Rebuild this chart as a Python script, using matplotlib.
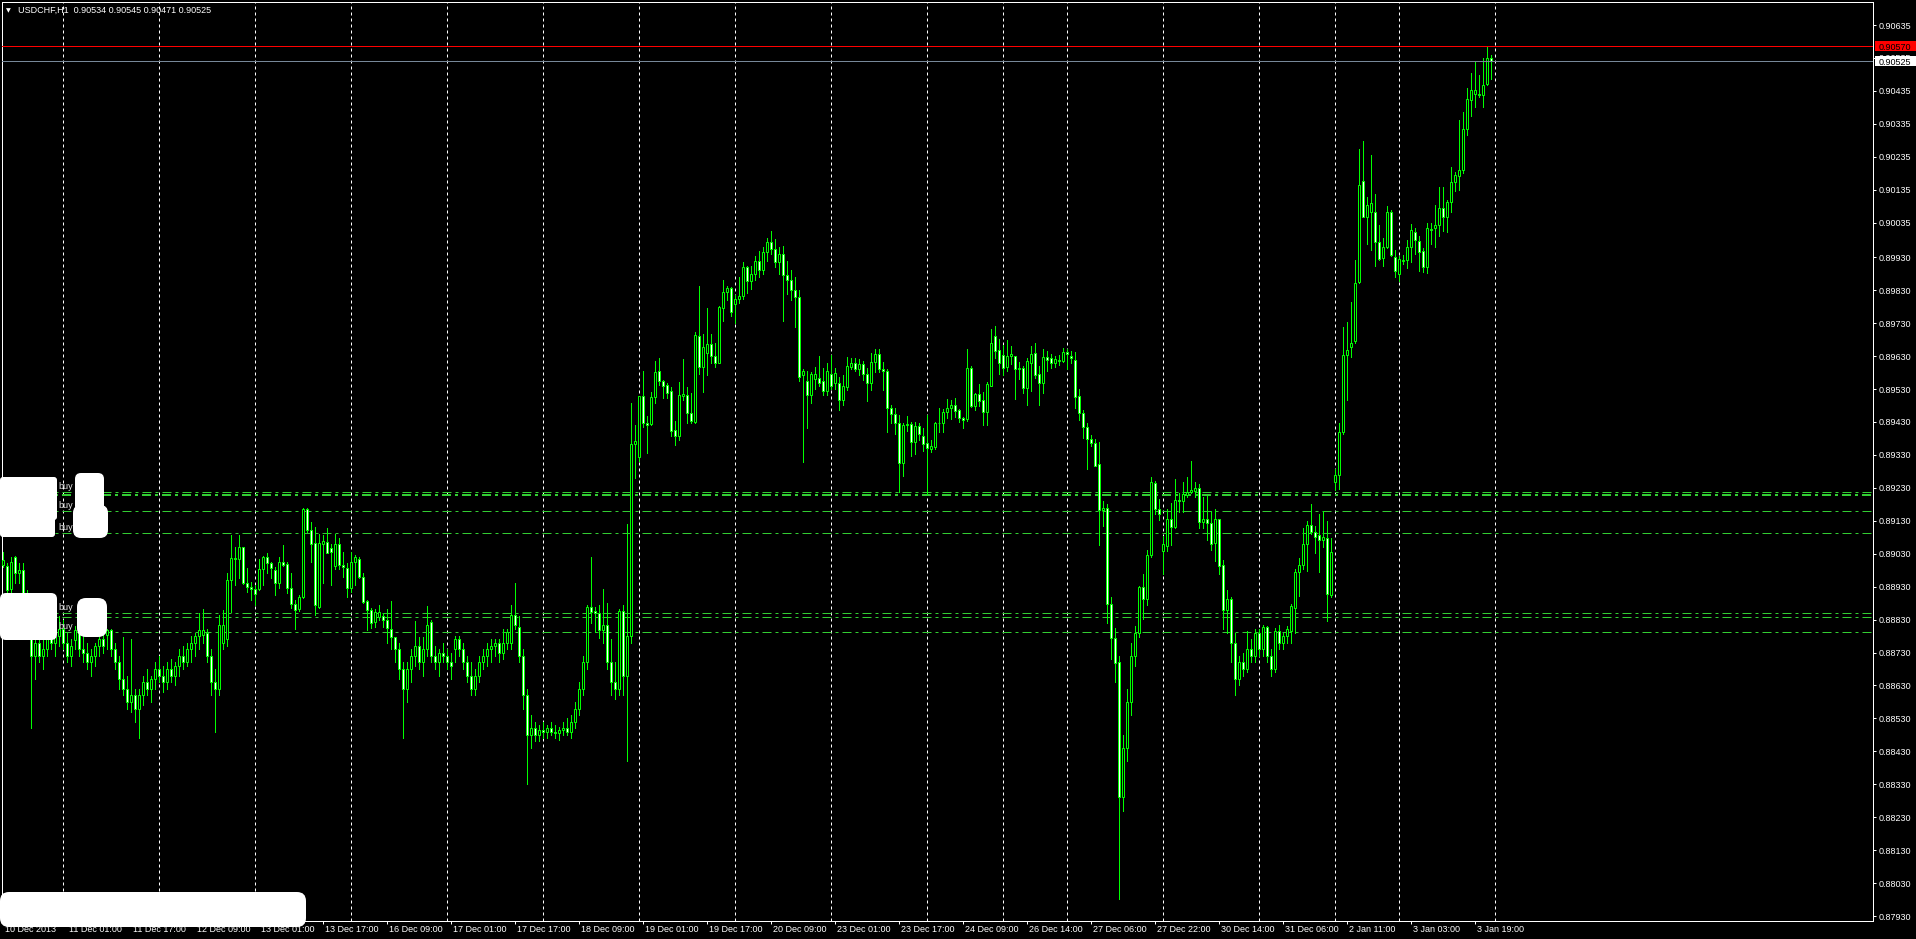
import numpy as np
import matplotlib
matplotlib.use("Agg")
import matplotlib.pyplot as plt
from matplotlib.patches import Rectangle, FancyBboxPatch
from matplotlib.transforms import blended_transform_factory, IdentityTransform, offset_copy

# --- Chart values: USDCHF H1, 10 Dec 2013 09:00 .. 3 Jan 2014 23:00 ---
TITLE = "USDCHF,H1  0.90534 0.90545 0.90471 0.90525"

opens = [
    0.88996, 0.88994, 0.88922, 0.89019, 0.88970, 0.88980, 0.88910, 0.88800, 0.88720, 0.88760,  # 0
    0.88720, 0.88740, 0.88790, 0.88760, 0.88780, 0.88800, 0.88760, 0.88720, 0.88768, 0.88798,  # 10
    0.88740, 0.88730, 0.88700, 0.88720, 0.88750, 0.88770, 0.88783, 0.88798, 0.88740, 0.88700,  # 20
    0.88650, 0.88620, 0.88580, 0.88600, 0.88560, 0.88600, 0.88640, 0.88620, 0.88650, 0.88680,  # 30
    0.88660, 0.88640, 0.88680, 0.88660, 0.88690, 0.88720, 0.88700, 0.88740, 0.88760, 0.88780,  # 40
    0.88783, 0.88788, 0.88720, 0.88640, 0.88620, 0.88760, 0.88770, 0.88950, 0.89016, 0.89013,  # 50
    0.89049, 0.88942, 0.88930, 0.88922, 0.88922, 0.88983, 0.89019, 0.89001, 0.88980, 0.88940,  # 60
    0.89004, 0.88999, 0.88925, 0.88877, 0.88861, 0.88898, 0.89165, 0.89102, 0.89064, 0.88869,  # 70
    0.89061, 0.89066, 0.89048, 0.88993, 0.89060, 0.88996, 0.88988, 0.88925, 0.89004, 0.89013,  # 80
    0.88960, 0.88887, 0.88859, 0.88822, 0.88839, 0.88841, 0.88829, 0.88800, 0.88776, 0.88740,  # 90
    0.88680, 0.88620, 0.88680, 0.88720, 0.88750, 0.88700, 0.88740, 0.88823, 0.88720, 0.88700,  # 100
    0.88730, 0.88720, 0.88700, 0.88740, 0.88770, 0.88740, 0.88700, 0.88660, 0.88620, 0.88660,  # 110
    0.88700, 0.88720, 0.88740, 0.88750, 0.88760, 0.88730, 0.88760, 0.88760, 0.88844, 0.88808,  # 120
    0.88720, 0.88600, 0.88480, 0.88500, 0.88480, 0.88495, 0.88490, 0.88500, 0.88490, 0.88485,  # 130
    0.88495, 0.88500, 0.88490, 0.88520, 0.88560, 0.88620, 0.88700, 0.88867, 0.88856, 0.88849,  # 140
    0.88798, 0.88813, 0.88700, 0.88640, 0.88620, 0.88855, 0.88660, 0.88780, 0.89362, 0.89324,  # 150
    0.89509, 0.89428, 0.89425, 0.89505, 0.89584, 0.89553, 0.89541, 0.89524, 0.89405, 0.89388,  # 160
    0.89510, 0.89511, 0.89456, 0.89431, 0.89690, 0.89598, 0.89640, 0.89666, 0.89630, 0.89610,  # 170
    0.89775, 0.89824, 0.89836, 0.89787, 0.89802, 0.89811, 0.89899, 0.89859, 0.89880, 0.89920,  # 180
    0.89890, 0.89945, 0.89975, 0.89955, 0.89915, 0.89940, 0.89875, 0.89860, 0.89830, 0.89810,  # 190
    0.89572, 0.89553, 0.89513, 0.89561, 0.89562, 0.89553, 0.89525, 0.89575, 0.89547, 0.89547,  # 200
    0.89497, 0.89537, 0.89598, 0.89609, 0.89592, 0.89605, 0.89575, 0.89549, 0.89611, 0.89636,  # 210
    0.89590, 0.89585, 0.89471, 0.89453, 0.89428, 0.89304, 0.89420, 0.89423, 0.89368, 0.89418,  # 220
    0.89386, 0.89365, 0.89347, 0.89355, 0.89426, 0.89426, 0.89459, 0.89471, 0.89480, 0.89466,  # 230
    0.89443, 0.89438, 0.89593, 0.89479, 0.89515, 0.89497, 0.89461, 0.89540, 0.89691, 0.89648,  # 240
    0.89633, 0.89597, 0.89630, 0.89630, 0.89590, 0.89593, 0.89534, 0.89610, 0.89638, 0.89575,  # 250
    0.89547, 0.89626, 0.89623, 0.89608, 0.89614, 0.89616, 0.89641, 0.89630, 0.89618, 0.89509,  # 260
    0.89456, 0.89414, 0.89377, 0.89365, 0.89301, 0.89163, 0.89170, 0.88876, 0.88773, 0.88702,  # 270
    0.88290, 0.88440, 0.88580, 0.88720, 0.88789, 0.88929, 0.88893, 0.89026, 0.89244, 0.89167,  # 280
    0.89037, 0.89052, 0.89134, 0.89111, 0.89193, 0.89189, 0.89209, 0.89217, 0.89219, 0.89231,  # 290
    0.89126, 0.89134, 0.89122, 0.89063, 0.89134, 0.88996, 0.88858, 0.88892, 0.88760, 0.88650,  # 300
    0.88700, 0.88680, 0.88740, 0.88720, 0.88789, 0.88740, 0.88807, 0.88720, 0.88680, 0.88795,  # 310
    0.88760, 0.88780, 0.88795, 0.88866, 0.88973, 0.88996, 0.89061, 0.89118, 0.89097, 0.89087,  # 320
    0.89073, 0.89079, 0.88905, 0.89248, 0.89268, 0.89398, 0.89634, 0.89658, 0.89675, 0.89855,  # 330
    0.90162, 0.90053, 0.90068, 0.90068, 0.89976, 0.89929, 0.89962, 0.90068, 0.89931, 0.89878,  # 340
    0.89920, 0.89921, 0.89962, 0.90008, 0.89980, 0.89949, 0.89900, 0.90012, 0.90018, 0.90027,  # 350
    0.90081, 0.90051, 0.90097, 0.90159, 0.90177, 0.90195, 0.90319, 0.90407, 0.90427, 0.90427,  # 360
    0.90422, 0.90455, 0.90534,                                                                   # 370
]

highs = [
    0.89036, 0.89001, 0.89021, 0.89024, 0.89001, 0.89001, 0.88920, 0.88830, 0.88780, 0.88790,
    0.88770, 0.88810, 0.88820, 0.88800, 0.88840, 0.88830, 0.88790, 0.88770, 0.88810, 0.88805,
    0.88783, 0.88760, 0.88740, 0.88760, 0.88780, 0.88788, 0.88800, 0.88800, 0.88760, 0.88720,
    0.88778, 0.88660, 0.88770, 0.88620, 0.88620, 0.88660, 0.88680, 0.88660, 0.88700, 0.88720,
    0.88690, 0.88700, 0.88710, 0.88700, 0.88740, 0.88750, 0.88760, 0.88780, 0.88790, 0.88849,
    0.88862, 0.88800, 0.88740, 0.88680, 0.88844, 0.88859, 0.88970, 0.89087, 0.89051, 0.89087,
    0.89049, 0.88986, 0.88945, 0.88935, 0.89013, 0.89024, 0.89031, 0.89006, 0.88991, 0.89019,
    0.89056, 0.89006, 0.88970, 0.88889, 0.88905, 0.89168, 0.89168, 0.89127, 0.89112, 0.89090,
    0.89087, 0.89107, 0.89061, 0.89089, 0.89077, 0.89036, 0.89001, 0.89036, 0.89026, 0.89021,
    0.88970, 0.88889, 0.88864, 0.88861, 0.88874, 0.88849, 0.88861, 0.88886, 0.88776, 0.88760,
    0.88700, 0.88700, 0.88740, 0.88826, 0.88776, 0.88776, 0.88871, 0.88830, 0.88750, 0.88740,
    0.88760, 0.88740, 0.88730, 0.88780, 0.88780, 0.88760, 0.88720, 0.88700, 0.88680, 0.88720,
    0.88740, 0.88760, 0.88770, 0.88770, 0.88770, 0.88800, 0.88800, 0.88874, 0.88940, 0.88841,
    0.88740, 0.88620, 0.88540, 0.88520, 0.88510, 0.88520, 0.88510, 0.88520, 0.88510, 0.88505,
    0.88520, 0.88530, 0.88540, 0.88580, 0.88640, 0.88720, 0.88875, 0.89019, 0.88867, 0.88874,
    0.88923, 0.88879, 0.88770, 0.88700, 0.88862, 0.88874, 0.89120, 0.89487, 0.89421, 0.89510,
    0.89585, 0.89448, 0.89520, 0.89615, 0.89623, 0.89557, 0.89547, 0.89537, 0.89434, 0.89550,
    0.89621, 0.89535, 0.89517, 0.89703, 0.89843, 0.89697, 0.89776, 0.89697, 0.89669, 0.89782,
    0.89861, 0.89843, 0.89841, 0.89815, 0.89871, 0.89916, 0.89903, 0.89905, 0.89935, 0.89950,
    0.89960, 0.89990, 0.90010, 0.89985, 0.89960, 0.89965, 0.89920, 0.89890, 0.89870, 0.89830,
    0.89590, 0.89585, 0.89583, 0.89597, 0.89630, 0.89593, 0.89609, 0.89633, 0.89593, 0.89567,
    0.89573, 0.89628, 0.89625, 0.89624, 0.89620, 0.89614, 0.89595, 0.89640, 0.89652, 0.89653,
    0.89612, 0.89590, 0.89483, 0.89471, 0.89452, 0.89428, 0.89449, 0.89431, 0.89431, 0.89428,
    0.89413, 0.89450, 0.89376, 0.89431, 0.89471, 0.89468, 0.89500, 0.89498, 0.89504, 0.89470,
    0.89446, 0.89652, 0.89600, 0.89518, 0.89545, 0.89522, 0.89552, 0.89712, 0.89720, 0.89681,
    0.89665, 0.89678, 0.89660, 0.89630, 0.89612, 0.89600, 0.89625, 0.89660, 0.89669, 0.89600,
    0.89650, 0.89645, 0.89635, 0.89629, 0.89632, 0.89654, 0.89651, 0.89645, 0.89641, 0.89530,
    0.89465, 0.89426, 0.89390, 0.89379, 0.89368, 0.89191, 0.89180, 0.88900, 0.88804, 0.88720,
    0.88480, 0.88620, 0.88760, 0.88810, 0.88931, 0.88969, 0.89040, 0.89262, 0.89252, 0.89197,
    0.89085, 0.89165, 0.89185, 0.89256, 0.89215, 0.89248, 0.89262, 0.89311, 0.89248, 0.89241,
    0.89203, 0.89205, 0.89161, 0.89167, 0.89134, 0.89012, 0.88919, 0.88900, 0.88790, 0.88720,
    0.88730, 0.88795, 0.88770, 0.88800, 0.88800, 0.88815, 0.88810, 0.88740, 0.88805, 0.88815,
    0.88790, 0.88810, 0.88878, 0.88984, 0.89016, 0.89108, 0.89130, 0.89182, 0.89114, 0.89150,
    0.89161, 0.89130, 0.89079, 0.89288, 0.89427, 0.89717, 0.89732, 0.89793, 0.89923, 0.90260,
    0.90283, 0.90112, 0.90242, 0.90122, 0.90027, 0.89988, 0.90086, 0.90073, 0.89953, 0.89935,
    0.89937, 0.89982, 0.90030, 0.90020, 0.89994, 0.89959, 0.90035, 0.90033, 0.90089, 0.90142,
    0.90142, 0.90104, 0.90204, 0.90189, 0.90346, 0.90370, 0.90445, 0.90488, 0.90523, 0.90484,
    0.90535, 0.90570, 0.90545,
]

lows = [
    0.88991, 0.88915, 0.88910, 0.88942, 0.88940, 0.88900, 0.88780, 0.88500, 0.88650, 0.88700,
    0.88680, 0.88720, 0.88740, 0.88720, 0.88750, 0.88740, 0.88700, 0.88690, 0.88740, 0.88720,
    0.88700, 0.88680, 0.88660, 0.88690, 0.88720, 0.88730, 0.88740, 0.88720, 0.88680, 0.88620,
    0.88600, 0.88560, 0.88550, 0.88520, 0.88470, 0.88570, 0.88600, 0.88580, 0.88620, 0.88640,
    0.88610, 0.88620, 0.88640, 0.88630, 0.88660, 0.88680, 0.88690, 0.88700, 0.88720, 0.88740,
    0.88760, 0.88700, 0.88600, 0.88490, 0.88600, 0.88740, 0.88750, 0.88854, 0.88935, 0.88955,
    0.88938, 0.88915, 0.88889, 0.88874, 0.88920, 0.88935, 0.88970, 0.88955, 0.88905, 0.88925,
    0.88993, 0.88912, 0.88864, 0.88800, 0.88857, 0.88895, 0.89097, 0.89006, 0.88844, 0.88864,
    0.88942, 0.89031, 0.88935, 0.88983, 0.88983, 0.88960, 0.88900, 0.88915, 0.88935, 0.88955,
    0.88879, 0.88798, 0.88803, 0.88808, 0.88829, 0.88808, 0.88760, 0.88740, 0.88700, 0.88650,
    0.88470, 0.88580, 0.88640, 0.88690, 0.88680, 0.88660, 0.88720, 0.88700, 0.88680, 0.88660,
    0.88700, 0.88680, 0.88650, 0.88700, 0.88720, 0.88680, 0.88640, 0.88600, 0.88600, 0.88640,
    0.88680, 0.88690, 0.88700, 0.88720, 0.88700, 0.88710, 0.88740, 0.88740, 0.88800, 0.88700,
    0.88560, 0.88330, 0.88440, 0.88460, 0.88460, 0.88470, 0.88470, 0.88480, 0.88470, 0.88465,
    0.88480, 0.88480, 0.88470, 0.88500, 0.88540, 0.88600, 0.88680, 0.88819, 0.88793, 0.88773,
    0.88760, 0.88680, 0.88600, 0.88590, 0.88600, 0.88600, 0.88400, 0.88760, 0.89261, 0.89310,
    0.89416, 0.89337, 0.89420, 0.89488, 0.89542, 0.89502, 0.89502, 0.89388, 0.89360, 0.89375,
    0.89497, 0.89426, 0.89428, 0.89428, 0.89575, 0.89522, 0.89573, 0.89610, 0.89598, 0.89609,
    0.89737, 0.89800, 0.89753, 0.89729, 0.89790, 0.89802, 0.89821, 0.89835, 0.89860, 0.89870,
    0.89880, 0.89920, 0.89940, 0.89900, 0.89880, 0.89735, 0.89820, 0.89800, 0.89717, 0.89555,
    0.89309, 0.89413, 0.89488, 0.89529, 0.89540, 0.89512, 0.89512, 0.89530, 0.89530, 0.89466,
    0.89481, 0.89527, 0.89591, 0.89585, 0.89573, 0.89557, 0.89494, 0.89527, 0.89581, 0.89581,
    0.89527, 0.89400, 0.89426, 0.89394, 0.89218, 0.89265, 0.89404, 0.89327, 0.89334, 0.89375,
    0.89341, 0.89211, 0.89338, 0.89348, 0.89398, 0.89398, 0.89441, 0.89438, 0.89444, 0.89431,
    0.89411, 0.89434, 0.89474, 0.89465, 0.89479, 0.89420, 0.89420, 0.89540, 0.89625, 0.89575,
    0.89572, 0.89584, 0.89607, 0.89500, 0.89560, 0.89519, 0.89480, 0.89524, 0.89564, 0.89483,
    0.89517, 0.89584, 0.89593, 0.89596, 0.89604, 0.89611, 0.89590, 0.89610, 0.89472, 0.89437,
    0.89380, 0.89287, 0.89356, 0.89297, 0.89056, 0.89113, 0.88820, 0.88711, 0.88640, 0.87983,
    0.88250, 0.88400, 0.88540, 0.88690, 0.88778, 0.88831, 0.88874, 0.89020, 0.89150, 0.89132,
    0.88967, 0.89037, 0.89055, 0.89108, 0.89158, 0.89158, 0.89203, 0.89215, 0.89203, 0.89108,
    0.89108, 0.89073, 0.89040, 0.89008, 0.88969, 0.88801, 0.88789, 0.88700, 0.88600, 0.88630,
    0.88660, 0.88670, 0.88700, 0.88700, 0.88720, 0.88720, 0.88700, 0.88660, 0.88670, 0.88740,
    0.88740, 0.88760, 0.88760, 0.88789, 0.88902, 0.88984, 0.88978, 0.89091, 0.89032, 0.88973,
    0.89049, 0.88827, 0.88898, 0.89224, 0.89226, 0.89392, 0.89498, 0.89628, 0.89669, 0.89852,
    0.90051, 0.89970, 0.89953, 0.89905, 0.89923, 0.89903, 0.89959, 0.89933, 0.89869, 0.89858,
    0.89911, 0.89897, 0.89917, 0.89941, 0.89888, 0.89885, 0.89882, 0.89970, 0.89962, 0.89996,
    0.90009, 0.90008, 0.90068, 0.90132, 0.90133, 0.90187, 0.90301, 0.90360, 0.90386, 0.90417,
    0.90387, 0.90452, 0.90471,
]

closes = [
    0.89011, 0.88920, 0.89004, 0.88970, 0.88980, 0.88910, 0.88800, 0.88720, 0.88760, 0.88720,
    0.88740, 0.88790, 0.88760, 0.88780, 0.88800, 0.88760, 0.88720, 0.88750, 0.88798, 0.88740,
    0.88730, 0.88700, 0.88720, 0.88750, 0.88770, 0.88750, 0.88798, 0.88740, 0.88700, 0.88650,
    0.88620, 0.88580, 0.88600, 0.88560, 0.88600, 0.88640, 0.88620, 0.88650, 0.88680, 0.88660,
    0.88640, 0.88680, 0.88660, 0.88690, 0.88720, 0.88700, 0.88740, 0.88760, 0.88780, 0.88798,
    0.88798, 0.88720, 0.88640, 0.88620, 0.88814, 0.88814, 0.88950, 0.89016, 0.89013, 0.89049,
    0.88940, 0.88928, 0.88922, 0.88908, 0.88983, 0.89019, 0.89001, 0.88986, 0.88940, 0.89004,
    0.88996, 0.88925, 0.88877, 0.88859, 0.88898, 0.89165, 0.89102, 0.89061, 0.88874, 0.89063,
    0.89068, 0.89033, 0.89036, 0.89060, 0.88996, 0.88991, 0.88925, 0.89004, 0.89021, 0.88960,
    0.88884, 0.88859, 0.88821, 0.88852, 0.88852, 0.88829, 0.88803, 0.88776, 0.88740, 0.88680,
    0.88620, 0.88680, 0.88720, 0.88750, 0.88700, 0.88740, 0.88815, 0.88720, 0.88700, 0.88730,
    0.88720, 0.88700, 0.88690, 0.88770, 0.88740, 0.88700, 0.88660, 0.88620, 0.88660, 0.88700,
    0.88720, 0.88740, 0.88750, 0.88760, 0.88730, 0.88760, 0.88792, 0.88844, 0.88814, 0.88720,
    0.88600, 0.88480, 0.88500, 0.88480, 0.88495, 0.88490, 0.88500, 0.88490, 0.88485, 0.88495,
    0.88500, 0.88490, 0.88520, 0.88560, 0.88620, 0.88700, 0.88869, 0.88854, 0.88849, 0.88798,
    0.88813, 0.88700, 0.88640, 0.88620, 0.88855, 0.88660, 0.88780, 0.89362, 0.89372, 0.89509,
    0.89428, 0.89422, 0.89505, 0.89581, 0.89555, 0.89540, 0.89518, 0.89403, 0.89388, 0.89511,
    0.89515, 0.89456, 0.89434, 0.89693, 0.89598, 0.89657, 0.89667, 0.89631, 0.89610, 0.89779,
    0.89824, 0.89837, 0.89765, 0.89803, 0.89811, 0.89899, 0.89859, 0.89880, 0.89920, 0.89890,
    0.89945, 0.89975, 0.89955, 0.89915, 0.89940, 0.89875, 0.89860, 0.89830, 0.89810, 0.89567,
    0.89585, 0.89513, 0.89576, 0.89575, 0.89547, 0.89525, 0.89584, 0.89540, 0.89578, 0.89497,
    0.89539, 0.89600, 0.89610, 0.89592, 0.89605, 0.89575, 0.89549, 0.89611, 0.89636, 0.89590,
    0.89586, 0.89471, 0.89453, 0.89428, 0.89306, 0.89420, 0.89423, 0.89368, 0.89418, 0.89392,
    0.89362, 0.89350, 0.89357, 0.89426, 0.89426, 0.89459, 0.89471, 0.89480, 0.89464, 0.89443,
    0.89436, 0.89593, 0.89479, 0.89515, 0.89494, 0.89461, 0.89545, 0.89669, 0.89646, 0.89608,
    0.89595, 0.89630, 0.89635, 0.89590, 0.89593, 0.89534, 0.89615, 0.89635, 0.89573, 0.89547,
    0.89626, 0.89618, 0.89610, 0.89620, 0.89619, 0.89643, 0.89636, 0.89623, 0.89507, 0.89458,
    0.89414, 0.89377, 0.89365, 0.89297, 0.89163, 0.89170, 0.88876, 0.88773, 0.88697, 0.88290,
    0.88440, 0.88580, 0.88720, 0.88789, 0.88929, 0.88893, 0.89026, 0.89248, 0.89167, 0.89150,
    0.89059, 0.89134, 0.89111, 0.89193, 0.89191, 0.89211, 0.89217, 0.89223, 0.89231, 0.89126,
    0.89134, 0.89122, 0.89061, 0.89134, 0.88993, 0.88860, 0.88892, 0.88760, 0.88650, 0.88700,
    0.88680, 0.88740, 0.88720, 0.88789, 0.88740, 0.88807, 0.88720, 0.88680, 0.88795, 0.88760,
    0.88780, 0.88800, 0.88870, 0.88973, 0.88996, 0.89059, 0.89118, 0.89097, 0.89082, 0.89073,
    0.89082, 0.88908, 0.89035, 0.89268, 0.89398, 0.89634, 0.89649, 0.89669, 0.89852, 0.90150,
    0.90053, 0.90089, 0.90094, 0.89976, 0.89926, 0.89962, 0.90068, 0.89937, 0.89888, 0.89926,
    0.89923, 0.89962, 0.90012, 0.89982, 0.89947, 0.89900, 0.90018, 0.90015, 0.90027, 0.90079,
    0.90051, 0.90097, 0.90159, 0.90179, 0.90195, 0.90319, 0.90410, 0.90437, 0.90437, 0.90422,
    0.90452, 0.90535, 0.90525,
]

# bar index at which each trading day starts (dashed separators)
DAY_STARTS = [15, 39, 63, 87, 111, 135, 159, 183, 207, 231, 250, 266, 290, 314, 333, 349, 373]

TIME_TICKS = [0, 16, 32, 48, 64, 80, 96, 112, 128, 144, 160, 176,
              192, 208, 224, 240, 256, 272, 288, 304, 320, 336, 352, 368]
TIME_LABELS = ["10 Dec 2013", "11 Dec 01:00", "11 Dec 17:00", "12 Dec 09:00",
               "13 Dec 01:00", "13 Dec 17:00", "16 Dec 09:00", "17 Dec 01:00",
               "17 Dec 17:00", "18 Dec 09:00", "19 Dec 01:00", "19 Dec 17:00",
               "20 Dec 09:00", "23 Dec 01:00", "23 Dec 17:00", "24 Dec 09:00",
               "26 Dec 14:00", "27 Dec 06:00", "27 Dec 22:00", "30 Dec 14:00",
               "31 Dec 06:00", "2 Jan 11:00", "3 Jan 03:00", "3 Jan 19:00"]

PRICE_TICKS = [0.90635, 0.90535, 0.90435, 0.90335, 0.90235, 0.90135, 0.90035,
               0.89930, 0.89830, 0.89730, 0.89630, 0.89530, 0.89430, 0.89330,
               0.89230, 0.89130, 0.89030, 0.88930, 0.88830, 0.88730, 0.88630,
               0.88530, 0.88430, 0.88330, 0.88230, 0.88130, 0.88030, 0.87930]

BUY_LEVELS = [0.89216, 0.89207, 0.89159, 0.89092, 0.88849, 0.88837, 0.88791]
BUY_LABEL_LEVELS = [0.89216, 0.89159, 0.89092, 0.88849, 0.88791]
ASK_LEVEL = 0.90570
BID_LEVEL = 0.90525

# --- styling ---
W, H, DPI = 1916, 939, 100
PX = 72 / DPI                      # one pixel in points
LIME = "#00FF00"
ORDER_GREEN = "#32CD32"
FONT_SIZE = 6.5
BUY_WIDTHS = [1, 2, 1, 1, 1, 1, 1]  # line width (px) of each order line
AX_LEFT, AX_TOP, AX_RIGHT, AX_BOTTOM = 2.0, 2.0, 1873.3, 921.3   # plot frame in px
X_LIMITS = (-0.325, 467.5)
Y_LIMITS = (0.87914, 0.90705)

plt.rcParams["font.family"] = ["Liberation Sans", "DejaVu Sans"]
plt.rcParams["lines.scale_dashes"] = False

assert len(opens) == len(highs) == len(lows) == len(closes)

fig = plt.figure(figsize=(W / DPI, H / DPI), dpi=DPI, facecolor="black")
ax = fig.add_axes([AX_LEFT / W, 1 - AX_BOTTOM / H,
                   (AX_RIGHT - AX_LEFT) / W, (AX_BOTTOM - AX_TOP) / H],
                  facecolor="black")
ax_w_px = AX_RIGHT - AX_LEFT
ax_h_px = AX_BOTTOM - AX_TOP

# day separators
for d in DAY_STARTS:
    ax.axvline(d, color="white", lw=PX, ls=(0, (3 * PX, 3 * PX)), zorder=1)

# candles
x = np.arange(len(opens))
o, hi, lo, c = (np.array(v) for v in (opens, highs, lows, closes))
up = c >= o
ax.vlines(x, np.minimum(lo, np.minimum(o, c)), np.maximum(hi, np.maximum(o, c)),
          colors=LIME, lw=PX, zorder=3, antialiased=False)
bottoms = np.minimum(o, c)
heights = np.abs(c - o)
ax.bar(x[up], heights[up], bottom=bottoms[up], width=0.5,
       facecolor="black", edgecolor=LIME, linewidth=PX, zorder=4)
ax.bar(x[~up], heights[~up], bottom=bottoms[~up], width=0.5,
       facecolor="white", edgecolor=LIME, linewidth=PX, zorder=4)

# pending order lines + labels
dashdot = (0, (9 * PX, 4 * PX, 3 * PX, 4 * PX))
for lv, w in zip(BUY_LEVELS, BUY_WIDTHS):
    ax.axhline(lv, color=ORDER_GREEN, lw=w * PX, ls=dashdot, zorder=2)
trans_xa_yd = blended_transform_factory(ax.transAxes, ax.transData)
buy_trans = offset_copy(trans_xa_yd, fig=fig, x=0, y=1, units="dots")
for lv in BUY_LABEL_LEVELS:
    ax.text(56 / ax_w_px, lv, "buy", transform=buy_trans, ha="left", va="bottom",
            fontsize=FONT_SIZE, color="#e6e6e6", zorder=6)

# ask / bid lines
ax.axhline(ASK_LEVEL, color="#FF0000", lw=PX, zorder=5)
ax.axhline(BID_LEVEL, color="#778899", lw=PX, zorder=5)

# axes look
ax.set_xlim(*X_LIMITS)
ax.set_ylim(*Y_LIMITS)
for s in ax.spines.values():
    s.set_color("white")
    s.set_linewidth(PX)

ax.set_yticks(PRICE_TICKS)
ax.set_yticklabels([f"{p:.5f}" for p in PRICE_TICKS])
ax.yaxis.tick_right()
ax.tick_params(axis="y", colors="white", length=3 * PX, width=PX, pad=2 * PX,
               labelsize=FONT_SIZE)

ax.set_xticks(TIME_TICKS)
ax.set_xticklabels([])
ax.tick_params(axis="x", colors="white", length=3 * PX, width=PX)
label_trans = offset_copy(blended_transform_factory(ax.transData, ax.transAxes),
                          fig=fig, x=2, y=-4, units="dots")
for t, lab in zip(TIME_TICKS, TIME_LABELS):
    ax.text(t, 0, lab, transform=label_trans, ha="left", va="top",
            fontsize=FONT_SIZE, color="white")

# price tags on the right scale
dp = (Y_LIMITS[1] - Y_LIMITS[0]) / ax_h_px
for lv, bg, fg in ((ASK_LEVEL, "#FF0000", "black"), (BID_LEVEL, "white", "black")):
    ax.add_patch(Rectangle((1 + 2 / ax_w_px, lv - 5 * dp), 43 / ax_w_px, 10 * dp,
                           transform=trans_xa_yd, clip_on=False,
                           facecolor=bg, edgecolor="none", zorder=6))
    ax.text(1 + 5 / ax_w_px, lv, f"{lv:.5f}", transform=trans_xa_yd,
            ha="left", va="center_baseline", fontsize=FONT_SIZE, color=fg, zorder=7)

# header
fig.text(6 / W, 1 - 10.5 / H, "\u25bc", fontsize=4.5, family="DejaVu Sans",
         color="white", va="center", ha="left")
fig.text(18 / W, 1 - 10 / H, TITLE, fontsize=FONT_SIZE, color="white",
         va="center", ha="left")

# white redaction patches present in the screenshot (px: x0, y0, x1, y1, corner)
REDACTIONS = [(0, 477, 57, 520, 3), (0, 510, 55, 537, 3),
              (75, 473, 104, 512, 6), (73, 505, 108, 538, 8),
              (0, 593, 57, 640, 6), (77, 598, 107, 637, 9),
              (0, 892, 306, 927, 9)]
for x0, y0, x1, y1, r in REDACTIONS:
    fig.add_artist(FancyBboxPatch((x0, H - y1), x1 - x0, y1 - y0,
                                  boxstyle=f"round,pad=0,rounding_size={r}",
                                  transform=IdentityTransform(),
                                  facecolor="white", edgecolor="none", zorder=20))

fig.savefig("out.png", dpi=DPI, facecolor="black")
